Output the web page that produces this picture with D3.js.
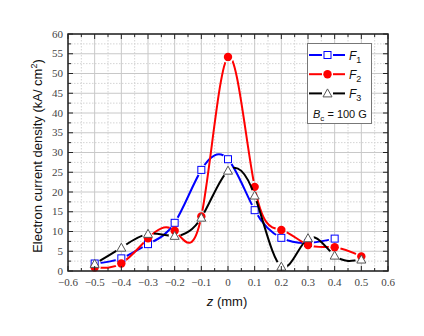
<!DOCTYPE html>
<html>
<head>
<meta charset="utf-8">
<script src="https://cdn.jsdelivr.net/npm/d3@7"></script>
<style>
  body { margin: 0; background: #fff; }
  svg { display: block; }
</style>
</head>
<body>
<svg id="chart"></svg>
<script>
// z positions (mm)
const zF1 = [-0.5, -0.4, -0.3, -0.2, -0.1, 0, 0.1, 0.2, 0.3, 0.4];
const zAll = [-0.5, -0.4, -0.3, -0.2, -0.1, 0, 0.1, 0.2, 0.3, 0.4, 0.5];

// electron current density (kA/cm2)
const f1 = [1.9, 3.2, 6.8, 12.2, 25.6, 28.3, 15.4, 8.4, 7.1, 8.2];
const f2 = [0.9, 1.9, 8.3, 10.2, 13.8, 54.2, 21.3, 10.4, 6.6, 6.0, 3.7];
const f3 = [1.8, 5.9, 9.4, 8.9, 13.5, 25.4, 19.1, 1.1, 8.3, 3.9, 2.9];

const xTicks = [-0.6, -0.5, -0.4, -0.3, -0.2, -0.1, 0, 0.1, 0.2, 0.3, 0.4, 0.5, 0.6];
const yTicks = [0, 5, 10, 15, 20, 25, 30, 35, 40, 45, 50, 55, 60];

const config = {
    width: 424,
    height: 336,
    margin: {top: 34, right: 36, bottom: 65, left: 68}
};

const serif = '"Liberation Serif", "Times New Roman", serif';
const sans = '"Liberation Sans", Arial, sans-serif';

const svg = d3.select('#chart')
    .attr('width', config.width)
    .attr('height', config.height);

const width = config.width - config.margin.left - config.margin.right;
const height = config.height - config.margin.top - config.margin.bottom;

const xScale = d3.scaleLinear().domain([-0.6, 0.6]).range([0, width]);
const yScale = d3.scaleLinear().domain([0, 60]).range([height, 0]);

const chart = svg.append('g')
    .attr('transform', `translate(${config.margin.left},${config.margin.top})`);

// minor grid (dotted)
const xMinor = d3.range(-0.55, 0.6, 0.1);
const yMinor = d3.range(2.5, 60, 5);
chart.append('g').selectAll('line')
    .data(xMinor).join('line')
    .attr('x1', d => xScale(d)).attr('x2', d => xScale(d))
    .attr('y1', 0).attr('y2', height)
    .attr('stroke', '#d4d4d4').attr('stroke-dasharray', '1.5,1.5');
chart.append('g').selectAll('line')
    .data(yMinor).join('line')
    .attr('x1', 0).attr('x2', width)
    .attr('y1', d => yScale(d)).attr('y2', d => yScale(d))
    .attr('stroke', '#d4d4d4').attr('stroke-dasharray', '1.5,1.5');

// major grid
chart.append('g').selectAll('line')
    .data(xTicks).join('line')
    .attr('x1', d => xScale(d)).attr('x2', d => xScale(d))
    .attr('y1', 0).attr('y2', height)
    .attr('stroke', '#c8c8c8');
chart.append('g').selectAll('line')
    .data(yTicks).join('line')
    .attr('x1', 0).attr('x2', width)
    .attr('y1', d => yScale(d)).attr('y2', d => yScale(d))
    .attr('stroke', '#c8c8c8');

// series
const series = [
    {name: 'F', sub: '1', xs: zF1, ys: f1, color: '#0000ff', marker: 'square'},
    {name: 'F', sub: '2', xs: zAll, ys: f2, color: '#ff0000', marker: 'circle'},
    {name: 'F', sub: '3', xs: zAll, ys: f3, color: '#000000', marker: 'triangle'}
];

const line = d3.line()
    .x(d => xScale(d[0]))
    .y(d => yScale(d[1]))
    .curve(d3.curveNatural);

const defs = svg.append('defs');

function drawMarker(g, type, color, x, y) {
    if (type === 'square') {
        g.append('rect')
            .attr('x', x - 3.5).attr('y', y - 3.5)
            .attr('width', 7).attr('height', 7)
            .attr('fill', '#fff').attr('stroke', color).attr('stroke-width', 1);
    } else if (type === 'circle') {
        g.append('circle')
            .attr('cx', x).attr('cy', y).attr('r', 4.2)
            .attr('fill', color);
    } else {
        g.append('path')
            .attr('d', `M${x},${y - 4.5}L${x + 4.5},${y + 3.5}L${x - 4.5},${y + 3.5}Z`)
            .attr('fill', '#fff').attr('stroke', '#555').attr('stroke-width', 1);
    }
}

series.forEach((s, i) => {
    const pts = s.xs.map((x, j) => [x, s.ys[j]]);
    // gap in the line around each symbol
    const mask = defs.append('mask')
        .attr('id', 'gap' + i)
        .attr('maskUnits', 'userSpaceOnUse')
        .attr('x', 0).attr('y', 0)
        .attr('width', config.width).attr('height', config.height);
    mask.append('rect')
        .attr('x', -config.margin.left).attr('y', -config.margin.top)
        .attr('width', config.width).attr('height', config.height)
        .attr('fill', '#fff');
    mask.selectAll('circle')
        .data(pts).join('circle')
        .attr('cx', d => xScale(d[0])).attr('cy', d => yScale(d[1]))
        .attr('r', 6)
        .attr('fill', '#000');

    chart.append('path')
        .datum(pts)
        .attr('d', line)
        .attr('fill', 'none')
        .attr('stroke', s.color)
        .attr('stroke-width', 2)
        .attr('mask', `url(#gap${i})`);

    const mg = chart.append('g');
    pts.forEach(d => drawMarker(mg, s.marker, s.color, xScale(d[0]), yScale(d[1])));
});

// frame and inward ticks
const frameColor = '#222';
chart.append('rect')
    .attr('width', width).attr('height', height)
    .attr('fill', 'none').attr('stroke', frameColor).attr('stroke-width', 1.5);

const xAll = d3.range(-0.6, 0.6001, 0.05);
const yAll = d3.range(0, 60.001, 2.5);
const ticks = chart.append('g').attr('stroke', frameColor).attr('stroke-width', 1);
xAll.forEach((d, i) => {
    const len = i % 2 === 0 ? 5 : 3;
    ticks.append('line').attr('x1', xScale(d)).attr('x2', xScale(d))
        .attr('y1', height).attr('y2', height - len);
    ticks.append('line').attr('x1', xScale(d)).attr('x2', xScale(d))
        .attr('y1', 0).attr('y2', len);
});
yAll.forEach((d, i) => {
    const len = i % 2 === 0 ? 5 : 3;
    ticks.append('line').attr('x1', 0).attr('x2', len)
        .attr('y1', yScale(d)).attr('y2', yScale(d));
    ticks.append('line').attr('x1', width).attr('x2', width - len)
        .attr('y1', yScale(d)).attr('y2', yScale(d));
});

// tick labels
const fmt = d3.format('.1f');
chart.append('g').selectAll('text')
    .data(xTicks).join('text')
    .attr('font-family', serif).attr('font-size', 11).attr('fill', '#444')
    .attr('x', d => xScale(d))
    .attr('y', height + 15)
    .attr('text-anchor', 'middle')
    .text(d => Math.abs(d) < 1e-9 ? '0' : fmt(d));
chart.append('g').selectAll('text')
    .data(yTicks).join('text')
    .attr('font-family', serif).attr('font-size', 11).attr('fill', '#444')
    .attr('x', -5)
    .attr('y', d => yScale(d) + 3.5)
    .attr('text-anchor', 'end')
    .text(d => d);

// axis titles
const xTitle = svg.append('text')
    .attr('x', 227).attr('y', 306)
    .attr('text-anchor', 'middle')
    .attr('font-family', sans)
    .attr('font-size', 13).attr('fill', '#111');
xTitle.append('tspan').attr('font-style', 'italic').text('z');
xTitle.append('tspan').text(' (mm)');

const yTitle = svg.append('text')
    .attr('transform', 'translate(42,156) rotate(-90)')
    .attr('text-anchor', 'middle')
    .attr('font-family', sans)
    .attr('font-size', 13).attr('fill', '#111');
yTitle.append('tspan').text('Electron current density (kA/ cm');
yTitle.append('tspan').attr('font-size', 9).attr('dy', -5).text('2');
yTitle.append('tspan').attr('dy', 5).text(')');

// legend
const legend = svg.append('g');
legend.append('rect')
    .attr('x', 307.5).attr('y', 43.5)
    .attr('width', 64).attr('height', 80)
    .attr('fill', '#fff').attr('stroke', '#777').attr('stroke-width', 1);

series.forEach((s, i) => {
    const y = 55 + i * 19.2;
    legend.append('line').attr('x1', 309).attr('x2', 322).attr('y1', y).attr('y2', y)
        .attr('stroke', s.color).attr('stroke-width', 2);
    legend.append('line').attr('x1', 333).attr('x2', 345).attr('y1', y).attr('y2', y)
        .attr('stroke', s.color).attr('stroke-width', 2);
    drawMarker(legend, s.marker, s.color, 327.5, y);
    const t = legend.append('text')
        .attr('x', 349).attr('y', y + 4.5)
        .attr('font-family', sans)
        .attr('font-size', 12).attr('fill', '#111');
    t.append('tspan').attr('font-style', 'italic').text(s.name);
    t.append('tspan').attr('font-size', 9).attr('dy', 3).text(s.sub);
});

const bc = legend.append('text')
    .attr('x', 313).attr('y', 118)
    .attr('font-family', sans)
    .attr('font-size', 11).attr('fill', '#111');
bc.append('tspan').attr('font-style', 'italic').text('B');
bc.append('tspan').attr('font-size', 8).attr('dy', 3).text('c');
bc.append('tspan').attr('dy', -3).text(' =  100 G');
</script>
</body>
</html>
